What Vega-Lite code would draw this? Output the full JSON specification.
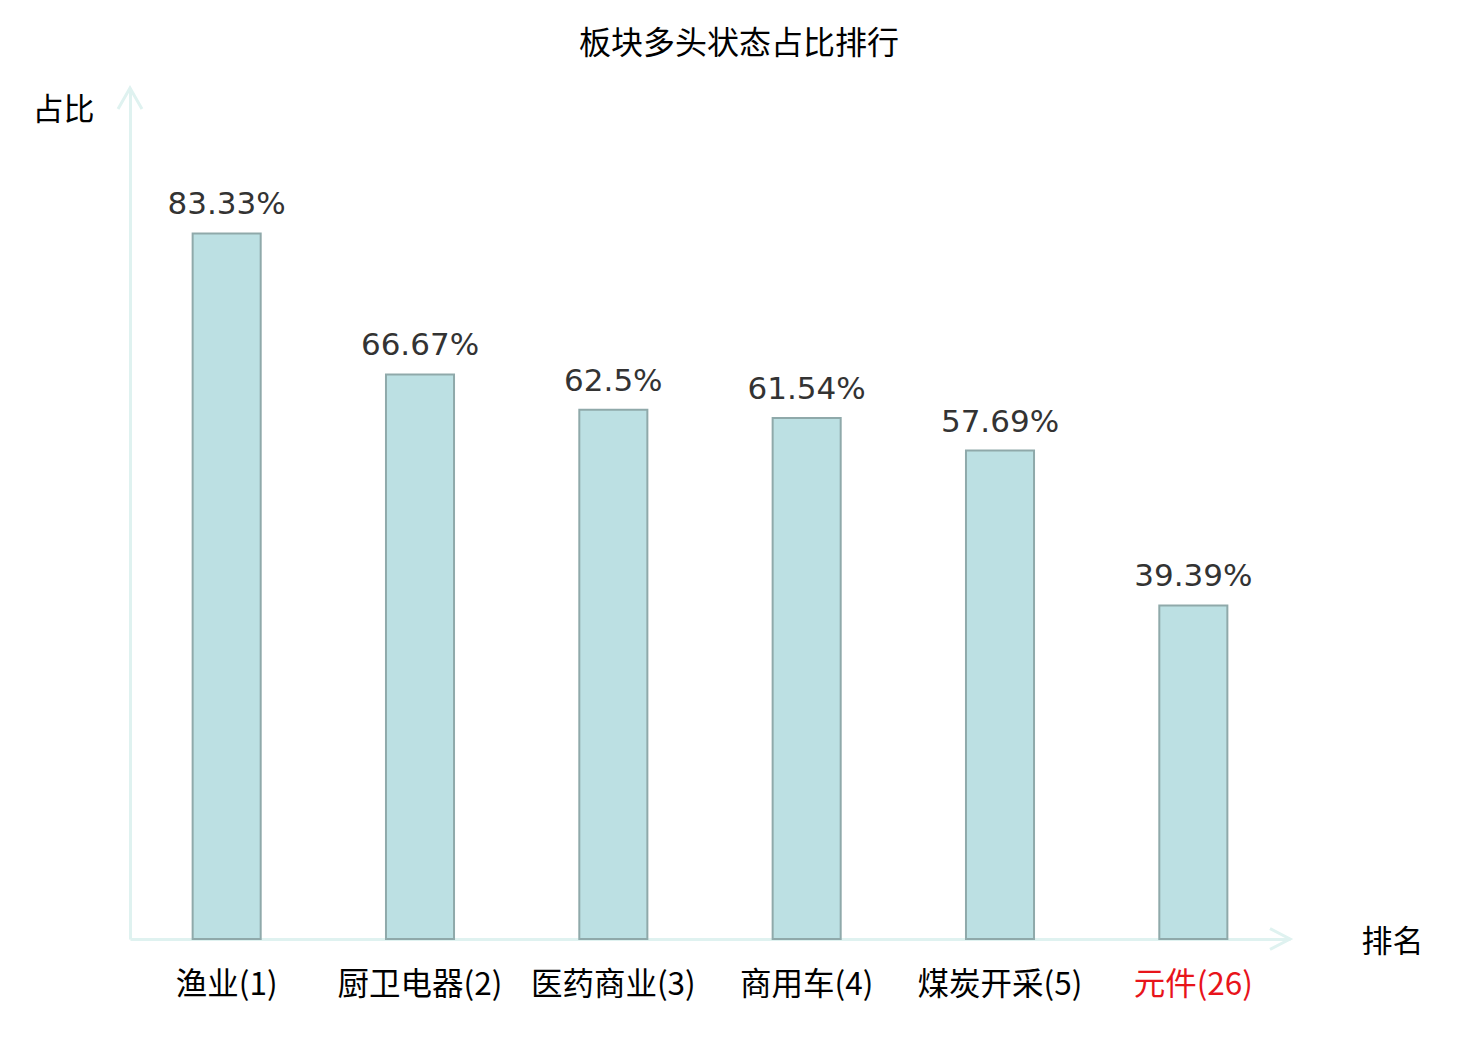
{
  "$schema": "https://vega.github.io/schema/vega-lite/v6.json",
  "width": 1160,
  "height": 851,
  "autosize": "none",
  "padding": {"left": 130, "top": 88, "right": 190, "bottom": 101},
  "background": "#ffffff",
  "title": {
    "text": "板块多头状态占比排行",
    "font": "Noto Sans CJK SC",
    "fontSize": 32,
    "fontWeight": "normal",
    "color": "#000000",
    "anchor": "middle",
    "baseline": "alphabetic",
    "offset": -4,
    "dx": 29
  },
  "data": {
    "values": [
      {"board": "渔业(1)", "ratio": 0.8333},
      {"board": "厨卫电器(2)", "ratio": 0.6667},
      {"board": "医药商业(3)", "ratio": 0.625},
      {"board": "商用车(4)", "ratio": 0.6154},
      {"board": "煤炭开采(5)", "ratio": 0.5769},
      {"board": "元件(26)", "ratio": 0.3939}
    ]
  },
  "layer": [
    {
      "mark": {"type": "bar", "fill": "#bce0e3", "stroke": "#8fa9aa", "strokeWidth": 2},
      "encoding": {
        "x": {
          "field": "board",
          "type": "nominal",
          "sort": null,
          "title": "排名",
          "scale": {"paddingInner": 0.648, "paddingOuter": 0.324},
          "axis": {
            "labelAngle": 0,
            "ticks": false,
            "labelPadding": 30,
            "labelFont": "Noto Sans CJK SC",
            "labelFontSize": 31.5,
            "labelColor": {
              "condition": {"test": "datum.value === '元件(26)'", "value": "#e8141b"},
              "value": "#000000"
            },
            "labelBaseline": "top",
            "domainColor": "#dff2f0",
            "domainWidth": 3,
            "titleFont": "Noto Sans CJK SC",
            "titleFontSize": 31,
            "titleFontWeight": "normal",
            "titleColor": "#000000",
            "titleAngle": 0,
            "titleAlign": "center",
            "titleBaseline": "middle",
            "titleX": 1262,
            "titleY": 3
          }
        },
        "y": {
          "field": "ratio",
          "type": "quantitative",
          "title": "占比",
          "scale": {"domain": [0, 1.005], "nice": false},
          "axis": {
            "labels": false,
            "ticks": false,
            "grid": false,
            "domainColor": "#dff2f0",
            "domainWidth": 3,
            "titleFont": "Noto Sans CJK SC",
            "titleFontSize": 31,
            "titleFontWeight": "normal",
            "titleColor": "#000000",
            "titleAngle": 0,
            "titleAlign": "center",
            "titleBaseline": "middle",
            "titleX": -67,
            "titleY": 22
          }
        }
      }
    },
    {
      "mark": {
        "type": "text",
        "font": "DejaVu Sans",
        "fontSize": 31,
        "color": "#333333",
        "baseline": "alphabetic",
        "dy": -19
      },
      "encoding": {
        "x": {"field": "board", "type": "nominal", "sort": null},
        "y": {"field": "ratio", "type": "quantitative"},
        "text": {"field": "ratio", "type": "quantitative", "format": ".2~%"}
      }
    },
    {
      "data": {"values": [{}]},
      "mark": {
        "type": "point",
        "shape": "M-0.57,1L0,0L0.57,1",
        "filled": false,
        "stroke": "#dff2f0",
        "strokeWidth": 3,
        "opacity": 1,
        "size": 1764
      },
      "encoding": {
        "x": {"value": 0},
        "y": {"datum": 1.005, "type": "quantitative"}
      }
    },
    {
      "data": {"values": [{}]},
      "mark": {
        "type": "point",
        "shape": "M-1,-0.52L0,0L-1,0.52",
        "filled": false,
        "stroke": "#dff2f0",
        "strokeWidth": 3,
        "opacity": 1,
        "size": 1600
      },
      "encoding": {
        "x": {"value": "width"},
        "y": {"datum": 0, "type": "quantitative"}
      }
    }
  ],
  "config": {
    "view": {"stroke": null}
  }
}
